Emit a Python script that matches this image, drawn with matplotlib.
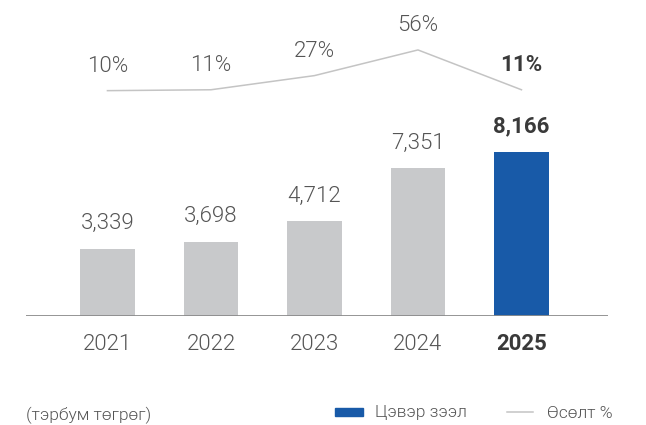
import matplotlib
matplotlib.use("Agg")
import matplotlib.pyplot as plt
from matplotlib.patches import Rectangle
from matplotlib.lines import Line2D

years = ["2021", "2022", "2023", "2024", "2025"]
loans = [3339, 3698, 4712, 7351, 8166]
growth = [10, 11, 27, 56, 11]
loan_labels = ["3,339", "3,698", "4,712", "7,351", "8,166"]
growth_labels = ["10%", "11%", "27%", "56%", "11%"]

plt.rcParams['font.family'] = ['Roboto', 'DejaVu Sans']

W, H = 646, 425
fig = plt.figure(figsize=(W / 100, H / 100), dpi=100)

def fx(px):
    return px / W

def fy(py):
    return 1 - py / H

base_y = 316
ax = fig.add_axes([fx(26), fy(base_y), fx(608) - fx(26), fy(0) - fy(base_y)])
ax2 = ax.twinx()
for a in (ax, ax2):
    a.set_axis_off()
ax.set_zorder(1)
ax2.set_zorder(2)

gray_bar = "#c8c9cb"
blue_bar = "#185aa8"
txt = "#555555"
dark = "#3a3a3a"
LIGHT = 300

x = list(range(len(years)))
colors = [gray_bar] * 4 + [blue_bar]
ax.bar(x, loans, width=0.53, color=colors, zorder=2)
ax.set_xlim(-0.787, 4.836)
ax.set_ylim(0, 316 / 0.0201)
ax.axhline(0, color="#8c8c8c", lw=1.3, zorder=3)

pt = 0.72  # points per pixel
for i, (v, lab) in enumerate(zip(loans, loan_labels)):
    bold = i == len(years) - 1
    ax.annotate(lab, xy=(i, v), xytext=(0, 19.5 * pt), textcoords="offset points",
                ha="center", va="baseline", fontsize=16,
                color=dark if bold else txt, fontweight="bold" if bold else LIGHT)
    ax.annotate(years[i], xy=(i, 0), xytext=(0, -34 * pt), textcoords="offset points",
                ha="center", va="baseline", fontsize=16,
                color=dark if bold else txt, fontweight="bold" if bold else LIGHT)

ax2.plot(x, growth, color="#c4c4c4", lw=1.1)
ax2.set_xlim(-0.787, 4.836)
ax2.set_ylim(-(316 - 99.5) / 0.885, 99.5 / 0.885)
for i, (g, lab) in enumerate(zip(growth, growth_labels)):
    bold = i == len(years) - 1
    ax2.annotate(lab, xy=(i, g), xytext=(0, 18.5 * pt), textcoords="offset points",
                 ha="center", va="baseline", fontsize=16,
                 color=dark if bold else txt, fontweight="bold" if bold else LIGHT)

# footer / legend
fig.text(fx(26), fy(415), "(тэрбум төгрөг)", ha="left", va="center", fontsize=12.5,
         color=txt, fontweight=LIGHT)
fig.add_artist(Rectangle((fx(335), fy(416)), fx(363) - fx(335), fy(408) - fy(416),
                         transform=fig.transFigure, color=blue_bar))
fig.text(fx(375), fy(413), "Цэвэр зээл", ha="left", va="center", fontsize=12.5,
         color=txt, fontweight=LIGHT)
fig.add_artist(Line2D([fx(507), fx(533)], [fy(412), fy(412)], transform=fig.transFigure,
                      color="#c4c4c4", lw=1.1))
fig.text(fx(547), fy(413), "Өсөлт %", ha="left", va="center", fontsize=12.5,
         color=txt, fontweight=LIGHT)

fig.savefig("out.png", dpi=100)
